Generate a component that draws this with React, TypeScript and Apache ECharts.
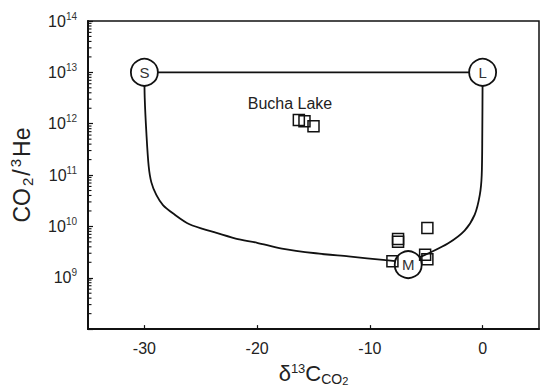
import React, { useEffect, useRef } from "react";
import * as echarts from "echarts";

const xTicks = [-30, -20, -10, 0];
const yDecades = [8, 9, 10, 11, 12, 13, 14];
const minorMultipliers = [2, 3, 4, 5, 6, 7, 8, 9];

const endMembers = [
  { name: "S", value: [-30, 1e13] },
  { name: "L", value: [0, 1e13] },
  { name: "M", value: [-6.6, 1.8e9] },
];

const topLine = [
  [-30, 1e13],
  [0, 1e13],
];

const leftCurve = [
  [-30, 1e13],
  [-29.97, 3.2e12],
  [-29.82, 6.5e11],
  [-29.62, 1.5e11],
  [-29.38, 7.2e10],
  [-28.94, 4.1e10],
  [-28.35, 2.6e10],
  [-27.47, 1.8e10],
  [-26.0, 1.1e10],
  [-23.9, 7.8e9],
  [-21.9, 5.8e9],
  [-20.0, 4.8e9],
  [-17.8, 3.7e9],
  [-14.8, 3.0e9],
  [-11.9, 2.6e9],
  [-8.6, 2.2e9],
  [-6.6, 2.0e9],
];

const rightCurve = [
  [-6.6, 2.0e9],
  [-4.8, 3.0e9],
  [-3.05, 4.7e9],
  [-1.6, 8.3e9],
  [-0.7, 1.7e10],
  [-0.25, 4.1e10],
  [-0.08, 1.0e11],
  [-0.03, 6.5e11],
  [0, 1e13],
];

const buchaLake = [
  [-16.3, 1.18e12],
  [-15.8, 1.12e12],
  [-15.0, 8.9e11],
];

const otherSamples = [
  [-4.9, 9.3e9],
  [-7.5, 5.7e9],
  [-7.5, 5.0e9],
  [-8.0, 2.1e9],
  [-5.1, 2.8e9],
  [-4.9, 2.3e9],
];

const FONT = "'Liberation Sans', Arial, sans-serif";

export default function App() {
  const ref = useRef<HTMLDivElement>(null);
  useEffect(() => {
    if (!ref.current) return;
    const chart = echarts.init(ref.current, undefined, { renderer: "svg" });
    const minorData: number[][] = [];
    yDecades.slice(0, -1).forEach((d) => {
      minorMultipliers.forEach((m) => minorData.push([-35, m * Math.pow(10, d)]));
    });
    const squareStyle = {
      color: "rgba(255,255,255,0)",
      borderColor: "#111",
      borderWidth: 1.5,
      opacity: 1,
    };
    chart.setOption({
      animation: false,
      textStyle: { fontFamily: FONT },
      grid: {
        left: 88,
        top: 21,
        right: 1,
        bottom: 54,
        show: true,
        borderColor: "#111",
        borderWidth: 1.5,
        backgroundColor: "transparent",
      },
      xAxis: {
        type: "value",
        min: -35,
        max: 5,
        splitLine: { show: false },
        axisLine: { onZero: false, lineStyle: { color: "#111", width: 2 } },
        axisTick: {
          inside: true,
          length: 4,
          customValues: xTicks,
          lineStyle: { color: "#111", width: 1.2 },
        },
        axisLabel: {
          customValues: xTicks,
          color: "#222",
          fontSize: 16,
          margin: 11,
          fontFamily: FONT,
        },
        name: "{a|δ}{sup|13}{a|C}{sub|CO}{sub2|2}",
        nameLocation: "middle",
        nameGap: 29,
        nameTextStyle: {
          fontFamily: FONT,
          rich: {
            a: { fontSize: 22, color: "#222", lineHeight: 25, fontFamily: FONT },
            sup: { fontSize: 13, color: "#222", lineHeight: 25, verticalAlign: "top", padding: [1, 0, 0, 0], fontFamily: FONT },
            sub: { fontSize: 14, color: "#222", lineHeight: 25, verticalAlign: "bottom", fontFamily: FONT },
            sub2: { fontSize: 11, color: "#222", lineHeight: 25, verticalAlign: "bottom", fontFamily: FONT },
          },
        },
      },
      yAxis: {
        type: "log",
        logBase: 10,
        min: 1e8,
        max: 1e14,
        interval: 1,
        splitLine: { show: false },
        axisLine: { onZero: false, lineStyle: { color: "#111", width: 2 } },
        axisTick: { inside: true, length: 5, lineStyle: { color: "#111", width: 1.2 } },
        axisLabel: {
          color: "#222",
          margin: 11,
          formatter: (v: number) => {
            const e = Math.round(Math.log10(v));
            if (e === 8) return "";
            return `{b|10}{s|${e}}`;
          },
          rich: {
            b: { fontSize: 16, color: "#222", lineHeight: 20, fontFamily: FONT },
            s: { fontSize: 10, color: "#333", lineHeight: 20, verticalAlign: "top", fontFamily: FONT },
          },
        },
        name: "{a|CO}{sub|2}{a|/}{sup|3}{a|He}",
        nameLocation: "middle",
        nameGap: 53,
        nameTextStyle: {
          fontFamily: FONT,
          rich: {
            a: { fontSize: 23, color: "#222", lineHeight: 27, padding: [0, 1, 0, 1], fontFamily: FONT },
            sub: { fontSize: 15, color: "#222", lineHeight: 27, verticalAlign: "bottom", padding: [0, 1, 0, 1], fontFamily: FONT },
            sup: { fontSize: 15, color: "#222", lineHeight: 27, verticalAlign: "top", padding: [0, 1, 0, 1], fontFamily: FONT },
          },
        },
      },
      series: [
        {
          type: "scatter",
          silent: true,
          clip: false,
          data: minorData,
          symbol: "rect",
          symbolSize: [3.5, 1.1],
          symbolOffset: [1.75, 0],
          itemStyle: { color: "#111", opacity: 1 },
          z: 5,
        },
        {
          type: "line",
          data: topLine,
          showSymbol: false,
          lineStyle: { color: "#111", width: 1.8 },
          z: 2,
        },
        {
          type: "line",
          data: leftCurve,
          showSymbol: false,
          smooth: 0.3,
          lineStyle: { color: "#111", width: 1.8 },
          z: 2,
        },
        {
          type: "line",
          data: rightCurve,
          showSymbol: false,
          smooth: 0.3,
          lineStyle: { color: "#111", width: 1.8 },
          z: 2,
        },
        {
          type: "scatter",
          data: endMembers,
          symbol: "circle",
          symbolSize: 27,
          itemStyle: { color: "#fff", borderColor: "#111", borderWidth: 1.8, opacity: 1 },
          label: {
            show: true,
            position: "inside",
            formatter: (p: any) => p.name,
            color: "#333",
            fontSize: 15,
            fontFamily: FONT,
          },
          z: 3,
        },
        {
          type: "scatter",
          data: buchaLake,
          symbol: "rect",
          symbolSize: 11,
          itemStyle: squareStyle,
          z: 4,
        },
        {
          type: "scatter",
          data: otherSamples,
          symbol: "rect",
          symbolSize: 11,
          itemStyle: squareStyle,
          z: 4,
        },
      ],
      graphic: [
        {
          type: "text",
          x: 290,
          y: 103,
          style: {
            text: "Bucha Lake",
            fontSize: 16,
            fill: "#222",
            fontFamily: FONT,
            textAlign: "center",
            textVerticalAlign: "middle",
          },
        },
      ],
    });
    return () => chart.dispose();
  }, []);
  return <div ref={ref} style={{ width: 540, height: 391, position: "absolute", left: 0, top: 0 }} />;
}
